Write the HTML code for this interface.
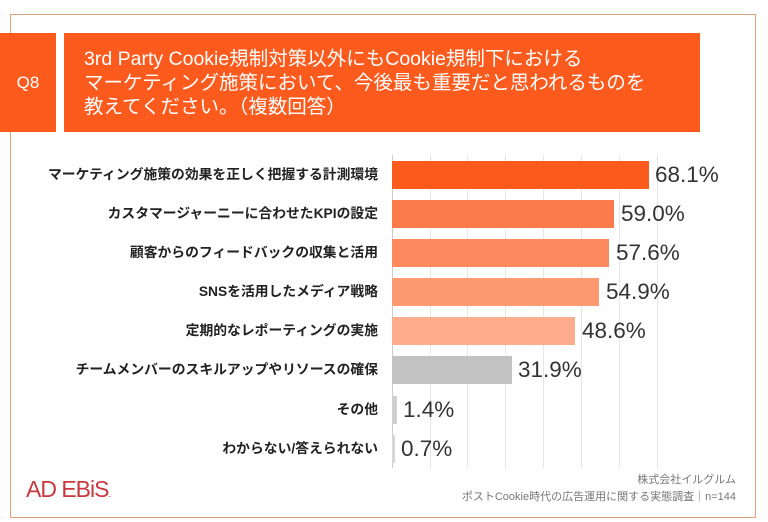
<!DOCTYPE html>
<html><head><meta charset="utf-8"><style>
body{margin:0;width:768px;height:522px;background:#fff;position:relative;overflow:hidden;font-family:"Liberation Sans","Noto Sans CJK JP",sans-serif}
.abs{position:absolute}
.frame{left:10px;top:14px;width:746px;height:504px;border:1.5px solid #e8a07c;box-sizing:border-box}
.q{left:0;top:33px;width:56px;height:99px;background:#fd5a1e;color:#fff;font-size:17px;display:flex;align-items:center;justify-content:center}
.t{left:64px;top:33px;width:636px;height:99px;background:#fd5a1e;color:#fff;font-size:19.5px;line-height:24px;padding:14px 0 0 20px;box-sizing:border-box;white-space:nowrap}
.g{top:155px;width:1px;height:313px;background:#e6e6e6}
.lab{right:390px;font-size:13.8px;font-weight:bold;color:#222;white-space:nowrap;line-height:28px}
.bar{left:392px;height:28px}
.v{font-size:22.5px;color:#333;line-height:28px}
</style></head><body>
<div class="abs frame"></div>
<div class="abs q">Q8</div>
<div class="abs t">3rd Party Cookie規制対策以外にもCookie規制下における<br>マーケティング施策において、今後最も重要だと思われるものを<br>教えてください。（複数回答）</div>
<div class="abs g" style="left:430px"></div><div class="abs g" style="left:467px"></div><div class="abs g" style="left:505px"></div><div class="abs g" style="left:543px"></div><div class="abs g" style="left:581px"></div><div class="abs g" style="left:619px"></div><div class="abs g" style="left:657px"></div>
<div class="abs" style="left:392px;top:155px;width:1px;height:313px;background:#ccc"></div>

<div class="abs lab" style="top:161px">マーケティング施策の効果を正しく把握する計測環境</div>
<div class="abs bar" style="top:161px;width:257px;background:#fd5a1e"></div>
<div class="abs v" style="left:655px;top:161px">68.1%</div>

<div class="abs lab" style="top:200px">カスタマージャーニーに合わせたKPIの設定</div>
<div class="abs bar" style="top:200px;width:222px;background:#fc7b4a"></div>
<div class="abs v" style="left:621px;top:200px">59.0%</div>

<div class="abs lab" style="top:239px">顧客からのフィードバックの収集と活用</div>
<div class="abs bar" style="top:239px;width:217px;background:#fc8a5e"></div>
<div class="abs v" style="left:616px;top:239px">57.6%</div>

<div class="abs lab" style="top:278px">SNSを活用したメディア戦略</div>
<div class="abs bar" style="top:278px;width:207px;background:#fd9a74"></div>
<div class="abs v" style="left:606px;top:278px">54.9%</div>

<div class="abs lab" style="top:317px">定期的なレポーティングの実施</div>
<div class="abs bar" style="top:317px;width:183px;background:#fdad8d"></div>
<div class="abs v" style="left:582px;top:317px">48.6%</div>

<div class="abs lab" style="top:356px">チームメンバーのスキルアップやリソースの確保</div>
<div class="abs bar" style="top:356px;width:120px;background:#c2c2c2"></div>
<div class="abs v" style="left:518px;top:356px">31.9%</div>

<div class="abs lab" style="top:396px">その他</div>
<div class="abs bar" style="top:396px;width:5px;background:#cfcfcf"></div>
<div class="abs v" style="left:403px;top:396px">1.4%</div>

<div class="abs lab" style="top:435px">わからない/答えられない</div>
<div class="abs bar" style="top:435px;width:3px;background:#d6d6d6"></div>
<div class="abs v" style="left:401px;top:435px">0.7%</div>

<div class="abs" style="left:26px;top:476px;font-size:23px;color:#c8383f;letter-spacing:-1px">AD EBiS<span style="font-size:10px">.</span></div>
<div class="abs" style="right:32px;top:472px;font-size:11px;color:#777;text-align:right;line-height:17px">株式会社イルグルム<br>ポストCookie時代の広告運用に関する実態調査｜n=144</div>
</body></html>
